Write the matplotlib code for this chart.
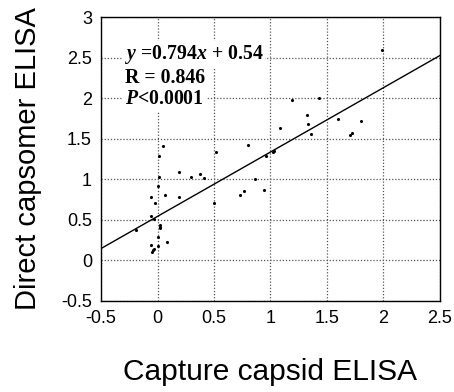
import numpy as np
import matplotlib
matplotlib.use("Agg")
import matplotlib.pyplot as plt

# capture capsid ELISA (x) vs direct capsomer ELISA (y)
capture = [1.99, 1.19, 1.43, 1.32, 1.33, 1.60, 1.80, 1.08, 1.36, 1.72, 1.70,
           0.05, 0.015, 0.52, 0.80, 0.96, 1.02, 1.03,
           0.19, 0.015, 0.30, 0.38, 0.41, 0.0, 0.07, -0.06, 0.19, -0.02, 0.50,
           0.86, 0.73, 0.77, 0.94,
           -0.06, -0.03, -0.19, 0.02, 0.02, 0.025, 0.0, -0.06, 0.0, 0.08,
           -0.04, -0.03, -0.05]
capsomer = [2.59, 1.98, 2.00, 1.79, 1.68, 1.74, 1.72, 1.63, 1.56, 1.57, 1.54,
            1.41, 1.29, 1.33, 1.42, 1.29, 1.33, 1.35,
            1.09, 1.03, 1.03, 1.06, 1.01, 0.92, 0.80, 0.78, 0.78, 0.71, 0.71,
            1.00, 0.80, 0.85, 0.87,
            0.54, 0.51, 0.37, 0.43, 0.41, 0.40, 0.29, 0.19, 0.18, 0.23,
            0.12, 0.14, 0.10]
slope, intercept = 0.794, 0.54
ticks = [-0.5, 0, 0.5, 1, 1.5, 2, 2.5]
yticks = [-0.5, 0, 0.5, 1, 1.5, 2, 2.5, 3]

plt.rcParams['mathtext.fontset'] = 'custom'
plt.rcParams['mathtext.rm'] = 'Liberation Serif:bold'
plt.rcParams['mathtext.it'] = 'Liberation Serif:italic:bold'

fig = plt.figure(figsize=(4.54, 3.92), dpi=100)
ax = fig.add_axes([0.2225, 0.233, 0.7465, 0.7236])

ax.scatter(capture, capsomer, s=5, c='black', zorder=3, linewidths=0)
lx = np.array([-0.5, 2.5])
ax.plot(lx, slope * lx + intercept, color='black', lw=1.0, zorder=2)

ax.set_xlim(-0.5, 2.5)
ax.set_ylim(-0.5, 3)
ax.set_xticks(ticks)
ax.set_xticklabels(['-0.5', '0', '0.5', '1', '1.5', '2', '2.5'])
ax.set_yticks(yticks)
ax.set_yticklabels(['-0.5', '0', '0.5', '1', '1.5', '2', '2.5', '3'])
ax.tick_params(length=0, labelsize=13)
ax.tick_params(axis='x', pad=7)
ax.tick_params(axis='y', pad=6.5)
for lab in ax.get_xticklabels() + ax.get_yticklabels():
    lab.set_fontfamily('Liberation Sans')
ax.grid(True, linestyle=(0, (1, 1.5)), color='#555555', lw=0.9)
for s in ax.spines.values():
    s.set_linewidth(1.0)

ax.set_xlabel('Capture capsid ELISA', fontsize=21.5, family='Liberation Sans', labelpad=22)
ax.set_ylabel('Direct capsomer ELISA', fontsize=21, family='Liberation Sans', labelpad=14)

# the equation block sits on a white patch that hides the grid behind it
txt = dict(transform=ax.transData, fontsize=14.2, family='Liberation Serif',
           fontweight='bold', va='center', ha='left', zorder=4,
           bbox=dict(facecolor='white', edgecolor='none', pad=1.5))
ax.text(-0.29, 2.54, '$y$ =0.794$x$ + 0.54', **txt)
ax.text(-0.29, 2.25, 'R = 0.846', **txt)
ax.text(-0.29, 1.99, '$P$<0.0001', **txt)

fig.savefig('out.png', dpi=100)
